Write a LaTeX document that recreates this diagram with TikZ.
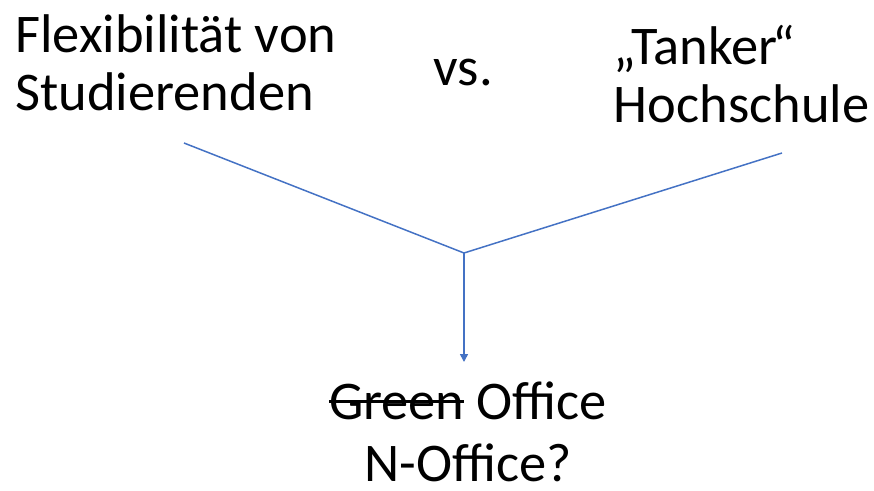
\documentclass[tikz,border=0pt]{standalone}
\usepackage{fontspec}
\setmainfont{Carlito}
\usepackage{xcolor}
\usetikzlibrary{arrows.meta}
\usetikzlibrary{calc}

\definecolor{linkblue}{HTML}{4472C4}
\newsavebox{\strikebox}
\newcommand{\strikeword}[1]{\sbox{\strikebox}{#1}\rlap{\rule[0.3em]{\wd\strikebox}{1.6pt}}\usebox{\strikebox}}

\tikzset{
  bigtext/.style={inner sep=0pt, font=\fontsize{31}{33}\selectfont},
  link/.style={draw=linkblue, line width=0.85pt}
}

\begin{document}
\begin{tikzpicture}
\useasboundingbox (0,0) rectangle (17.48,9.8);

% base anchors sit on the last line
\node[bigtext, anchor=base west, align=left] (students) at (0.30,7.60) {Flexibilität von\\Studierenden};
\node[bigtext, anchor=base west] (versus) at (8.66,8.10) {vs.};
\node[bigtext, anchor=base west, align=left] (tanker) at (12.27,7.36) {„Tanker\kern-0.1em“\\Hochschule};
\node[bigtext, anchor=base, align=center, font=\fontsize{31}{35}\selectfont] (office) at (9.36,0.18) {\strikeword{Green} Office\\N-Office?};

\coordinate (lstart) at (3.68,6.94);
\coordinate (rend) at (15.64,6.74);
\coordinate (join) at (9.28,4.74);
\coordinate (tip) at (9.28,2.56);

\draw[link] (lstart) -- (join) -- (rend);
\draw[link, -{Triangle[length=4.5pt,width=4.5pt]}] (join) -- (tip);

\end{tikzpicture}
\end{document}
